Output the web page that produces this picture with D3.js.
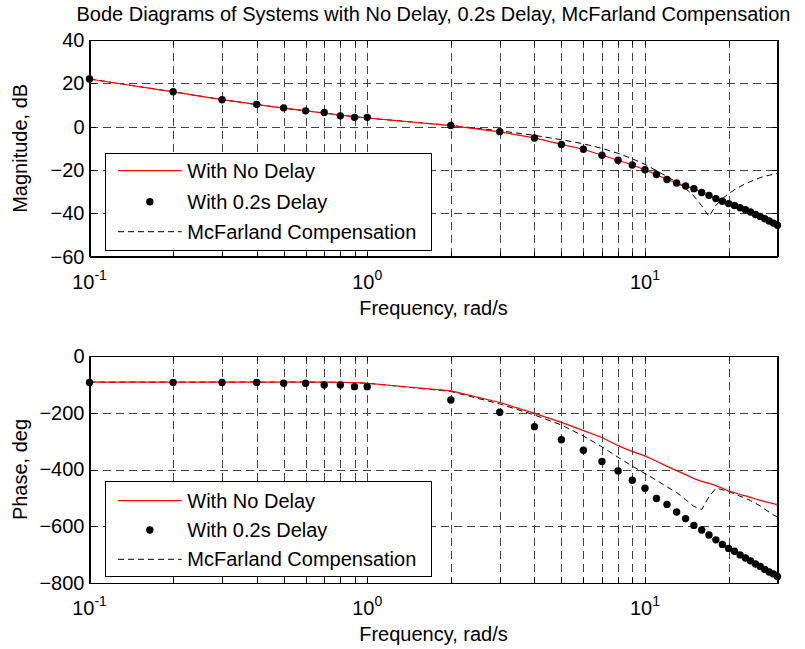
<!DOCTYPE html>
<html><head><meta charset="utf-8">
<script src="https://cdn.jsdelivr.net/npm/d3@7"></script>
<style>
body{margin:0;background:#fff}
text{font-family:"Liberation Sans",Arial,Helvetica,sans-serif;fill:#000}
</style>
</head><body>
<svg id="c" width="805" height="649"></svg>
<script>
// ---------------- data ----------------
const freqs = [0.1,0.2,0.3,0.4,0.5,0.6,0.7,0.8,0.9,1,2,3,4,5,6,7,8,9,10,11,12,13,14,15,16,17,18,19,20,21,22,23,24,25,26,27,28,29,30];

const magNoDelay   = [22.0,16.1,12.5,10.2,8.6,7.3,6.3,5.3,4.6,4.0,0.5,-2.4,-5.2,-8.2,-10.4,-13.2,-15.5,-17.7,-19.9,-22.1,-24.4,-26.0,-27.4,-28.6,-30.4,-31.7,-33.2,-34.4,-35.5,-36.4,-37.4,-38.3,-39.4,-40.5,-41.4,-42.5,-43.5,-44.5,-45.5];
const magDelay     = [22.0,16.1,12.4,10.3,8.7,7.3,6.6,5.0,4.3,4.3,0.6,-2.3,-5.2,-8.2,-10.4,-13.2,-15.5,-17.7,-19.9,-22.1,-24.4,-26.0,-27.4,-28.6,-30.4,-31.7,-33.2,-34.4,-35.5,-36.4,-37.4,-38.3,-39.4,-40.5,-41.4,-42.5,-43.5,-44.5,-45.5];
const magMcFarland = [22.0,16.1,12.5,10.2,8.6,7.3,6.3,5.3,4.6,4.0,0.6,-1.9,-4.0,-6.0,-7.9,-10.0,-12.3,-14.8,-17.4,-20.3,-23.0,-25.6,-28.5,-32.0,-36.5,-41.5,-36.3,-33.2,-30.9,-29.2,-27.6,-26.3,-25.3,-24.4,-23.5,-22.9,-22.4,-21.9,-21.6];

const phaseNoDelay   = [-92,-92,-92,-92,-92,-92,-92,-93,-94,-96,-123,-164,-202,-234,-263,-287,-316,-337,-352,-371,-389,-404,-418,-432,-442,-449,-457,-466,-476,-482,-488,-493,-498,-504,-509,-513,-517,-520,-526];
const phaseDelay     = [-93,-93,-93,-93,-96,-96,-102,-102,-108,-108,-155,-198,-249,-295,-332,-372,-405,-438,-466,-502,-523,-550,-573,-597,-613,-631,-648,-664,-678,-688,-701,-712,-722,-733,-742,-752,-761,-768,-777];
const phaseMcFarland = [-92,-92,-92,-92,-92,-92,-92,-93,-94,-96,-125,-169,-208,-243,-282,-320,-357,-388,-414,-438,-461,-481,-506,-530,-541,-496,-466,-471,-477,-486,-494,-501,-510,-519,-529,-540,-550,-560,-567];

const magTicks   = [40,20,0,-20,-40,-60];
const phaseTicks = [0,-200,-400,-600,-800];
const decadeTicks = [0.1,1,10];
const legendLabels = ["With No Delay","With 0.2s Delay","McFarland Compensation"];
const titleText = "Bode Diagrams of Systems with No Delay, 0.2s Delay, McFarland Compensation";
const xLabel = "Frequency, rad/s";
const yLabels = ["Magnitude, dB","Phase, deg"];

// ---------------- drawing ----------------
const svg = d3.select("#c");
const FS = 20;
const xL = 89.5, xR = 777.5;
const x = d3.scaleLog().domain([0.1,30]).range([xL,xR]);
const allXTicks = x.ticks();
const innerXTicks = allXTicks.filter(d => d > 0.1 + 1e-9 && d < 30 - 1e-9);

const panels = [
  {top:40, bottom:256.7, domain:[-60,40], ticks:magTicks, label:yLabels[0],
   series:[magNoDelay,magDelay,magMcFarland], legend:{x:105.7,y:153.3,w:326,h:96.7,rows:[17.4,48.4,78.4]}},
  {top:356, bottom:583, domain:[-800,0], ticks:phaseTicks, label:yLabels[1],
   series:[phaseNoDelay,phaseDelay,phaseMcFarland], legend:{x:105.7,y:481.7,w:326,h:95,rows:[19,48.3,77.6]}}
];

svg.append("text").attr("x",(xL+xR)/2).attr("y",21).attr("text-anchor","middle")
  .style("font-size",FS+"px").text(titleText);

panels.forEach(p => {
  const y = d3.scaleLinear().domain(p.domain).range([p.bottom,p.top]);
  const g = svg.append("g");

  // grid
  const grid = g.append("g").attr("stroke","#444").attr("stroke-width",1)
    .attr("stroke-dasharray","8,5").attr("shape-rendering","crispEdges");
  grid.selectAll("line.v").data(innerXTicks).join("line")
    .attr("x1",d=>Math.round(x(d))+0.5).attr("x2",d=>Math.round(x(d))+0.5)
    .attr("y1",p.top).attr("y2",p.bottom);
  const innerY = p.ticks.filter(t => t > p.domain[0] && t < p.domain[1]);
  grid.selectAll("line.h").data(innerY).join("line")
    .attr("x1",xL).attr("x2",xR)
    .attr("y1",d=>Math.round(y(d))+0.5).attr("y2",d=>Math.round(y(d))+0.5);

  const clipId = "clip"+p.top;
  svg.append("clipPath").attr("id",clipId).append("rect")
    .attr("x",xL).attr("y",p.top).attr("width",xR-xL).attr("height",p.bottom-p.top);

  const line = d3.line().x((d,i)=>x(freqs[i])).y(d=>y(d));
  const plot = g.append("g").attr("clip-path",`url(#${clipId})`);
  plot.append("path").datum(p.series[2]).attr("d",line)
    .attr("fill","none").attr("stroke","#000").attr("stroke-width",1).attr("stroke-dasharray","6,4");
  plot.append("path").datum(p.series[0]).attr("d",line)
    .attr("fill","none").attr("stroke","#ff0000").attr("stroke-width",1.2);
  g.selectAll("circle.pt").data(p.series[1]).join("circle")
    .attr("cx",(d,i)=>x(freqs[i])).attr("cy",d=>y(d)).attr("r",3.7).attr("fill","#000");

  // legend
  const L = p.legend;
  const lg = g.append("g");
  lg.append("rect").attr("x",L.x).attr("y",L.y).attr("width",L.w).attr("height",L.h)
    .attr("fill","#fff").attr("stroke","#000").attr("stroke-width",1).attr("shape-rendering","crispEdges");
  const sx1 = 118, sx2 = 181.7, tx = 187.3;
  lg.append("line").attr("x1",sx1).attr("x2",sx2).attr("y1",L.y+L.rows[0]).attr("y2",L.y+L.rows[0])
    .attr("stroke","#ff0000").attr("stroke-width",1.2);
  lg.append("circle").attr("cx",(sx1+sx2)/2).attr("cy",L.y+L.rows[1]).attr("r",3.7).attr("fill","#000");
  lg.append("line").attr("x1",sx1).attr("x2",sx2).attr("y1",L.y+L.rows[2]).attr("y2",L.y+L.rows[2])
    .attr("stroke","#000").attr("stroke-width",1).attr("stroke-dasharray","6,4");
  legendLabels.forEach((t,i)=>{
    lg.append("text").attr("x",tx).attr("y",L.y+L.rows[i]).attr("dy","0.35em")
      .style("font-size",FS+"px").text(t);
  });

  // axes (ticks inward)
  const ax = g.append("g").attr("shape-rendering","crispEdges");
  ax.append("g").attr("transform",`translate(0,${p.bottom})`)
    .call(d3.axisBottom(x).tickValues(allXTicks).tickSize(-5).tickSizeOuter(0).tickFormat(""));
  ax.append("g").attr("transform",`translate(0,${p.top})`)
    .call(d3.axisTop(x).tickValues(allXTicks).tickSize(-5).tickSizeOuter(0).tickFormat(""));
  ax.append("g").attr("transform",`translate(${xL},0)`)
    .call(d3.axisLeft(y).tickValues(p.ticks).tickSize(-6).tickSizeOuter(0).tickPadding(5))
    .selectAll("text").style("font-size",FS+"px").attr("font-family",null);
  ax.append("g").attr("transform",`translate(${xR},0)`)
    .call(d3.axisRight(y).tickValues(p.ticks).tickSize(-6).tickSizeOuter(0).tickFormat(""));
  ax.selectAll("path.domain").attr("stroke","#000");
  ax.selectAll(".tick line").attr("stroke","#000");
  ax.append("rect").attr("x",xL).attr("y",p.top).attr("width",xR-xL).attr("height",p.bottom-p.top)
    .attr("fill","none").attr("stroke","#000").attr("stroke-width",1);

  // decade labels with superscripts
  decadeTicks.forEach(d=>{
    const exp = Math.round(Math.log10(d));
    const t = g.append("text").attr("x",x(d)).attr("y",p.bottom+32).attr("text-anchor","middle")
      .style("font-size",FS+"px");
    t.append("tspan").text("10");
    t.append("tspan").attr("dy",-9).style("font-size","14px").text(String(exp));
  });

  svg.append("text").attr("x",(xL+xR)/2).attr("y",p.bottom+58).attr("text-anchor","middle")
    .style("font-size",FS+"px").text(xLabel);
  svg.append("text").attr("transform",`translate(27,${(p.top+p.bottom)/2}) rotate(-90)`)
    .attr("text-anchor","middle").style("font-size",FS+"px").text(p.label);
});
svg.selectAll(".tick text").style("font-family",'"Liberation Sans",Arial,sans-serif').attr("fill","#000");
</script>
</body></html>
